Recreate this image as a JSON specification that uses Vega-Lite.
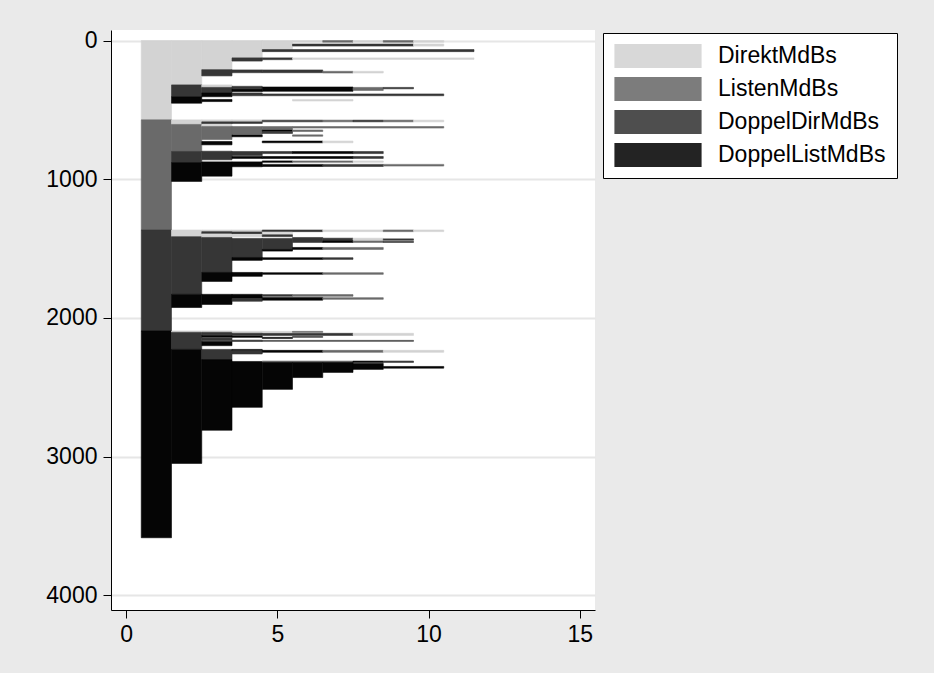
{
  "$schema": "https://vega.github.io/schema/vega-lite/v6.json",
  "width": 484,
  "height": 580,
  "autosize": {"type": "none"},
  "padding": {"left": 111, "top": 30, "right": 339, "bottom": 63},
  "background": "#eaeaea",
  "config": {"view": {"fill": "white", "stroke": null}, "font": "Liberation Sans"},
  "data": {"values": [
    {"lo":0.5,"hi":1.5,"top":0,"bot":572,"kind":"DirektMdBs"},
    {"lo":1.5,"hi":2.5,"top":0,"bot":320,"kind":"DirektMdBs"},
    {"lo":1.5,"hi":2.5,"top":320,"bot":405,"kind":"DoppelDirMdBs"},
    {"lo":1.5,"hi":2.5,"top":405,"bot":452,"kind":"DoppelListMdBs"},
    {"lo":2.5,"hi":3.5,"top":0,"bot":210,"kind":"DirektMdBs"},
    {"lo":2.5,"hi":3.5,"top":210,"bot":255,"kind":"DoppelDirMdBs"},
    {"lo":2.5,"hi":3.5,"top":320,"bot":338,"kind":"DirektMdBs"},
    {"lo":2.5,"hi":3.5,"top":338,"bot":378,"kind":"DoppelDirMdBs"},
    {"lo":2.5,"hi":3.5,"top":378,"bot":405,"kind":"DoppelListMdBs"},
    {"lo":2.5,"hi":3.5,"top":425,"bot":440,"kind":"DoppelListMdBs"},
    {"lo":3.5,"hi":4.5,"top":0,"bot":125,"kind":"DirektMdBs"},
    {"lo":3.5,"hi":4.5,"top":125,"bot":148,"kind":"DoppelDirMdBs"},
    {"lo":3.5,"hi":4.5,"top":212,"bot":232,"kind":"DoppelDirMdBs"},
    {"lo":3.5,"hi":4.5,"top":330,"bot":348,"kind":"DoppelDirMdBs"},
    {"lo":3.5,"hi":4.5,"top":350,"bot":368,"kind":"DoppelListMdBs"},
    {"lo":3.5,"hi":4.5,"top":378,"bot":398,"kind":"DoppelDirMdBs"},
    {"lo":4.5,"hi":5.5,"top":0,"bot":65,"kind":"DirektMdBs"},
    {"lo":4.5,"hi":11.5,"top":65,"bot":80,"kind":"DoppelDirMdBs"},
    {"lo":4.5,"hi":5.5,"top":125,"bot":138,"kind":"DoppelDirMdBs"},
    {"lo":5.5,"hi":11.5,"top":125,"bot":136,"kind":"DirektMdBs"},
    {"lo":4.5,"hi":6.5,"top":212,"bot":232,"kind":"DoppelDirMdBs"},
    {"lo":6.5,"hi":7.5,"top":222,"bot":234,"kind":"ListenMdBs"},
    {"lo":7.5,"hi":8.5,"top":222,"bot":234,"kind":"DirektMdBs"},
    {"lo":4.5,"hi":7.5,"top":335,"bot":366,"kind":"DoppelListMdBs"},
    {"lo":7.5,"hi":8.5,"top":338,"bot":360,"kind":"ListenMdBs"},
    {"lo":8.5,"hi":9.5,"top":338,"bot":348,"kind":"DoppelDirMdBs"},
    {"lo":4.5,"hi":10.5,"top":385,"bot":398,"kind":"DoppelDirMdBs"},
    {"lo":5.5,"hi":7.5,"top":425,"bot":436,"kind":"DirektMdBs"},
    {"lo":5.5,"hi":6.5,"top":0,"bot":12,"kind":"DirektMdBs"},
    {"lo":6.5,"hi":7.5,"top":0,"bot":12,"kind":"ListenMdBs"},
    {"lo":7.5,"hi":8.5,"top":0,"bot":12,"kind":"DirektMdBs"},
    {"lo":8.5,"hi":9.5,"top":0,"bot":12,"kind":"ListenMdBs"},
    {"lo":9.5,"hi":10.5,"top":0,"bot":12,"kind":"DirektMdBs"},
    {"lo":5.5,"hi":9.5,"top":25,"bot":40,"kind":"DoppelDirMdBs"},
    {"lo":9.5,"hi":10.5,"top":25,"bot":40,"kind":"DirektMdBs"},
    {"lo":0.5,"hi":1.5,"top":572,"bot":1366,"kind":"ListenMdBs"},
    {"lo":1.5,"hi":2.5,"top":572,"bot":605,"kind":"DirektMdBs"},
    {"lo":1.5,"hi":2.5,"top":605,"bot":800,"kind":"ListenMdBs"},
    {"lo":1.5,"hi":2.5,"top":800,"bot":880,"kind":"DoppelDirMdBs"},
    {"lo":1.5,"hi":2.5,"top":880,"bot":1016,"kind":"DoppelListMdBs"},
    {"lo":2.5,"hi":3.5,"top":572,"bot":584,"kind":"DirektMdBs"},
    {"lo":2.5,"hi":3.5,"top":586,"bot":600,"kind":"DoppelDirMdBs"},
    {"lo":2.5,"hi":3.5,"top":605,"bot":620,"kind":"DirektMdBs"},
    {"lo":2.5,"hi":3.5,"top":620,"bot":714,"kind":"ListenMdBs"},
    {"lo":2.5,"hi":3.5,"top":728,"bot":752,"kind":"DoppelListMdBs"},
    {"lo":2.5,"hi":3.5,"top":798,"bot":860,"kind":"DoppelDirMdBs"},
    {"lo":2.5,"hi":3.5,"top":875,"bot":978,"kind":"DoppelListMdBs"},
    {"lo":3.5,"hi":4.5,"top":572,"bot":582,"kind":"DirektMdBs"},
    {"lo":3.5,"hi":4.5,"top":586,"bot":598,"kind":"DoppelDirMdBs"},
    {"lo":3.5,"hi":4.5,"top":620,"bot":675,"kind":"ListenMdBs"},
    {"lo":3.5,"hi":4.5,"top":680,"bot":694,"kind":"DoppelListMdBs"},
    {"lo":3.5,"hi":4.5,"top":800,"bot":830,"kind":"DoppelDirMdBs"},
    {"lo":3.5,"hi":4.5,"top":836,"bot":850,"kind":"DoppelListMdBs"},
    {"lo":3.5,"hi":4.5,"top":875,"bot":910,"kind":"DoppelListMdBs"},
    {"lo":4.5,"hi":6.5,"top":574,"bot":586,"kind":"DoppelDirMdBs"},
    {"lo":6.5,"hi":7.5,"top":574,"bot":586,"kind":"ListenMdBs"},
    {"lo":7.5,"hi":8.5,"top":574,"bot":586,"kind":"DoppelDirMdBs"},
    {"lo":8.5,"hi":9.5,"top":574,"bot":586,"kind":"ListenMdBs"},
    {"lo":9.5,"hi":10.5,"top":574,"bot":586,"kind":"DirektMdBs"},
    {"lo":4.5,"hi":5.5,"top":620,"bot":642,"kind":"ListenMdBs"},
    {"lo":5.5,"hi":10.5,"top":620,"bot":631,"kind":"ListenMdBs"},
    {"lo":4.5,"hi":5.5,"top":645,"bot":656,"kind":"DoppelListMdBs"},
    {"lo":5.5,"hi":6.5,"top":645,"bot":656,"kind":"ListenMdBs"},
    {"lo":4.5,"hi":5.5,"top":660,"bot":670,"kind":"DoppelDirMdBs"},
    {"lo":5.5,"hi":6.5,"top":680,"bot":690,"kind":"ListenMdBs"},
    {"lo":4.5,"hi":6.5,"top":725,"bot":737,"kind":"DoppelListMdBs"},
    {"lo":6.5,"hi":7.5,"top":725,"bot":737,"kind":"DirektMdBs"},
    {"lo":4.5,"hi":5.5,"top":800,"bot":815,"kind":"DoppelDirMdBs"},
    {"lo":5.5,"hi":7.5,"top":800,"bot":815,"kind":"DoppelListMdBs"},
    {"lo":7.5,"hi":8.5,"top":800,"bot":815,"kind":"DoppelDirMdBs"},
    {"lo":4.5,"hi":7.5,"top":836,"bot":850,"kind":"DoppelListMdBs"},
    {"lo":7.5,"hi":8.5,"top":836,"bot":850,"kind":"DoppelDirMdBs"},
    {"lo":4.5,"hi":5.5,"top":868,"bot":878,"kind":"DoppelListMdBs"},
    {"lo":5.5,"hi":7.5,"top":868,"bot":878,"kind":"ListenMdBs"},
    {"lo":7.5,"hi":8.5,"top":868,"bot":878,"kind":"DirektMdBs"},
    {"lo":4.5,"hi":6.5,"top":893,"bot":908,"kind":"DoppelListMdBs"},
    {"lo":6.5,"hi":8.5,"top":893,"bot":908,"kind":"DoppelDirMdBs"},
    {"lo":8.5,"hi":10.5,"top":893,"bot":905,"kind":"ListenMdBs"},
    {"lo":0.5,"hi":1.5,"top":1366,"bot":2094,"kind":"DoppelDirMdBs"},
    {"lo":1.5,"hi":2.5,"top":1366,"bot":1414,"kind":"DirektMdBs"},
    {"lo":1.5,"hi":2.5,"top":1414,"bot":1830,"kind":"DoppelDirMdBs"},
    {"lo":1.5,"hi":2.5,"top":1830,"bot":1925,"kind":"DoppelListMdBs"},
    {"lo":2.5,"hi":3.5,"top":1366,"bot":1376,"kind":"DirektMdBs"},
    {"lo":2.5,"hi":3.5,"top":1378,"bot":1392,"kind":"DoppelDirMdBs"},
    {"lo":2.5,"hi":3.5,"top":1396,"bot":1420,"kind":"DirektMdBs"},
    {"lo":2.5,"hi":3.5,"top":1420,"bot":1672,"kind":"DoppelDirMdBs"},
    {"lo":2.5,"hi":3.5,"top":1672,"bot":1737,"kind":"DoppelListMdBs"},
    {"lo":2.5,"hi":3.5,"top":1830,"bot":1903,"kind":"DoppelListMdBs"},
    {"lo":3.5,"hi":4.5,"top":1366,"bot":1376,"kind":"DirektMdBs"},
    {"lo":3.5,"hi":4.5,"top":1380,"bot":1394,"kind":"DoppelDirMdBs"},
    {"lo":3.5,"hi":4.5,"top":1400,"bot":1415,"kind":"DirektMdBs"},
    {"lo":3.5,"hi":4.5,"top":1427,"bot":1564,"kind":"DoppelDirMdBs"},
    {"lo":3.5,"hi":4.5,"top":1564,"bot":1585,"kind":"DoppelListMdBs"},
    {"lo":3.5,"hi":4.5,"top":1672,"bot":1700,"kind":"DoppelListMdBs"},
    {"lo":3.5,"hi":4.5,"top":1830,"bot":1860,"kind":"DoppelListMdBs"},
    {"lo":3.5,"hi":4.5,"top":1860,"bot":1880,"kind":"DoppelDirMdBs"},
    {"lo":4.5,"hi":6.5,"top":1366,"bot":1378,"kind":"DoppelDirMdBs"},
    {"lo":6.5,"hi":8.5,"top":1366,"bot":1378,"kind":"DirektMdBs"},
    {"lo":8.5,"hi":9.5,"top":1366,"bot":1378,"kind":"ListenMdBs"},
    {"lo":9.5,"hi":10.5,"top":1366,"bot":1378,"kind":"DirektMdBs"},
    {"lo":4.5,"hi":5.5,"top":1382,"bot":1392,"kind":"DirektMdBs"},
    {"lo":4.5,"hi":5.5,"top":1400,"bot":1414,"kind":"DoppelDirMdBs"},
    {"lo":4.5,"hi":5.5,"top":1427,"bot":1506,"kind":"DoppelDirMdBs"},
    {"lo":5.5,"hi":6.5,"top":1420,"bot":1456,"kind":"DoppelDirMdBs"},
    {"lo":6.5,"hi":7.5,"top":1425,"bot":1445,"kind":"DoppelDirMdBs"},
    {"lo":6.5,"hi":7.5,"top":1445,"bot":1456,"kind":"DoppelListMdBs"},
    {"lo":7.5,"hi":8.5,"top":1425,"bot":1440,"kind":"DirektMdBs"},
    {"lo":7.5,"hi":8.5,"top":1445,"bot":1456,"kind":"ListenMdBs"},
    {"lo":8.5,"hi":9.5,"top":1430,"bot":1440,"kind":"DoppelDirMdBs"},
    {"lo":8.5,"hi":9.5,"top":1448,"bot":1456,"kind":"DoppelDirMdBs"},
    {"lo":4.5,"hi":5.5,"top":1506,"bot":1518,"kind":"DoppelListMdBs"},
    {"lo":5.5,"hi":6.5,"top":1492,"bot":1506,"kind":"DoppelListMdBs"},
    {"lo":6.5,"hi":8.5,"top":1492,"bot":1506,"kind":"ListenMdBs"},
    {"lo":4.5,"hi":6.5,"top":1566,"bot":1578,"kind":"DoppelListMdBs"},
    {"lo":6.5,"hi":7.5,"top":1566,"bot":1578,"kind":"DoppelDirMdBs"},
    {"lo":4.5,"hi":6.5,"top":1674,"bot":1686,"kind":"DoppelListMdBs"},
    {"lo":6.5,"hi":8.5,"top":1674,"bot":1686,"kind":"ListenMdBs"},
    {"lo":4.5,"hi":5.5,"top":1832,"bot":1844,"kind":"DoppelDirMdBs"},
    {"lo":5.5,"hi":7.5,"top":1832,"bot":1844,"kind":"ListenMdBs"},
    {"lo":4.5,"hi":6.5,"top":1852,"bot":1872,"kind":"DoppelListMdBs"},
    {"lo":6.5,"hi":8.5,"top":1854,"bot":1866,"kind":"ListenMdBs"},
    {"lo":0.5,"hi":1.5,"top":2094,"bot":3585,"kind":"DoppelListMdBs"},
    {"lo":1.5,"hi":2.5,"top":2094,"bot":2104,"kind":"DirektMdBs"},
    {"lo":1.5,"hi":2.5,"top":2104,"bot":2227,"kind":"DoppelDirMdBs"},
    {"lo":1.5,"hi":2.5,"top":2227,"bot":3049,"kind":"DoppelListMdBs"},
    {"lo":2.5,"hi":3.5,"top":2094,"bot":2104,"kind":"DirektMdBs"},
    {"lo":2.5,"hi":3.5,"top":2104,"bot":2122,"kind":"DoppelDirMdBs"},
    {"lo":2.5,"hi":3.5,"top":2125,"bot":2140,"kind":"DoppelListMdBs"},
    {"lo":2.5,"hi":3.5,"top":2145,"bot":2165,"kind":"DoppelDirMdBs"},
    {"lo":2.5,"hi":3.5,"top":2170,"bot":2200,"kind":"DoppelListMdBs"},
    {"lo":2.5,"hi":3.5,"top":2227,"bot":2300,"kind":"DoppelDirMdBs"},
    {"lo":2.5,"hi":3.5,"top":2300,"bot":2810,"kind":"DoppelListMdBs"},
    {"lo":3.5,"hi":4.5,"top":2096,"bot":2106,"kind":"DirektMdBs"},
    {"lo":3.5,"hi":4.5,"top":2110,"bot":2126,"kind":"DoppelDirMdBs"},
    {"lo":3.5,"hi":4.5,"top":2130,"bot":2140,"kind":"DoppelListMdBs"},
    {"lo":3.5,"hi":4.5,"top":2160,"bot":2170,"kind":"DoppelDirMdBs"},
    {"lo":3.5,"hi":4.5,"top":2227,"bot":2237,"kind":"DoppelListMdBs"},
    {"lo":3.5,"hi":4.5,"top":2237,"bot":2260,"kind":"DoppelDirMdBs"},
    {"lo":3.5,"hi":4.5,"top":2314,"bot":2645,"kind":"DoppelListMdBs"},
    {"lo":4.5,"hi":5.5,"top":2097,"bot":2104,"kind":"DirektMdBs"},
    {"lo":5.5,"hi":6.5,"top":2097,"bot":2104,"kind":"ListenMdBs"},
    {"lo":4.5,"hi":7.5,"top":2111,"bot":2126,"kind":"DoppelDirMdBs"},
    {"lo":7.5,"hi":9.5,"top":2111,"bot":2126,"kind":"DirektMdBs"},
    {"lo":4.5,"hi":5.5,"top":2140,"bot":2148,"kind":"DoppelListMdBs"},
    {"lo":5.5,"hi":6.5,"top":2134,"bot":2140,"kind":"DoppelDirMdBs"},
    {"lo":4.5,"hi":9.5,"top":2162,"bot":2169,"kind":"DoppelDirMdBs"},
    {"lo":4.5,"hi":6.5,"top":2234,"bot":2248,"kind":"DoppelListMdBs"},
    {"lo":6.5,"hi":8.5,"top":2234,"bot":2248,"kind":"ListenMdBs"},
    {"lo":8.5,"hi":10.5,"top":2234,"bot":2248,"kind":"DirektMdBs"},
    {"lo":4.5,"hi":7.5,"top":2311,"bot":2321,"kind":"ListenMdBs"},
    {"lo":7.5,"hi":8.5,"top":2311,"bot":2321,"kind":"DoppelListMdBs"},
    {"lo":8.5,"hi":9.5,"top":2311,"bot":2321,"kind":"DoppelDirMdBs"},
    {"lo":4.5,"hi":5.5,"top":2321,"bot":2515,"kind":"DoppelListMdBs"},
    {"lo":5.5,"hi":6.5,"top":2321,"bot":2430,"kind":"DoppelListMdBs"},
    {"lo":6.5,"hi":7.5,"top":2321,"bot":2393,"kind":"DoppelListMdBs"},
    {"lo":7.5,"hi":8.5,"top":2328,"bot":2371,"kind":"DoppelListMdBs"},
    {"lo":8.5,"hi":10.5,"top":2350,"bot":2362,"kind":"DoppelListMdBs"}
  ]},
  "mark": {"type": "rect", "strokeWidth": 0.6},
  "encoding": {
    "x": {
      "field": "lo", "type": "quantitative",
      "scale": {"domain": [-0.5, 15.5], "nice": false, "zero": false},
      "axis": {"title": null, "values": [0, 5, 10, 15], "grid": false, "domainColor": "black", "tickColor": "black", "tickSize": 8, "labelFontSize": 23, "labelColor": "black", "labelPadding": 5, "labelFlush": false, "labelFont": "Liberation Sans"}
    },
    "x2": {"field": "hi"},
    "y": {
      "field": "top", "type": "quantitative",
      "scale": {"domain": [-76, 4106], "reverse": true, "nice": false, "zero": false},
      "axis": {"title": null, "values": [0, 1000, 2000, 3000, 4000], "format": "d", "grid": true, "gridColor": "#e6e6e6", "gridWidth": 2, "domainColor": "black", "tickColor": "black", "tickSize": 8, "labelFontSize": 23, "labelColor": "black", "labelPadding": 6, "labelFlush": false, "labelFont": "Liberation Sans"}
    },
    "y2": {"field": "bot"},
    "stroke": {
      "field": "kind", "type": "nominal",
      "scale": {"domain": ["DirektMdBs", "ListenMdBs", "DoppelDirMdBs", "DoppelListMdBs"], "range": ["#d3d3d3", "#6a6a6a", "#363636", "#050505"]},
      "legend": null
    },
    "color": {
      "field": "kind", "type": "nominal",
      "scale": {"domain": ["DirektMdBs", "ListenMdBs", "DoppelDirMdBs", "DoppelListMdBs"], "range": ["#d3d3d3", "#6a6a6a", "#363636", "#050505"]},
      "legend": {"orient": "none", "legendX": 492, "legendY": 3, "title": null, "fillColor": "white", "strokeColor": "black", "padding": 11, "labelFontSize": 23, "labelColor": "black", "labelFont": "Liberation Sans", "labelLimit": 300, "symbolType": "M-1,-0.276L1,-0.276L1,0.276L-1,0.276Z", "symbolSize": 7600, "symbolStrokeWidth": 0, "symbolOpacity": 0.88, "clipHeight": 24, "rowPadding": 9, "labelOffset": 16}
    }
  }
}
